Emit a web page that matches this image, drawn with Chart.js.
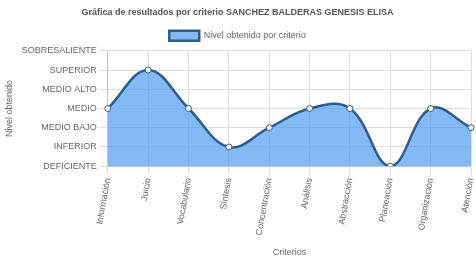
<!DOCTYPE html>
<html><head><meta charset="utf-8">
<script src="https://cdn.jsdelivr.net/npm/chart.js@4.4.1/dist/chart.umd.min.js"></script>
<style>html,body{margin:0;padding:0;background:#fff}#wrap{width:476px;height:260px}</style>
</head><body><div id="wrap"><canvas id="c"></canvas></div>
<script>
const categories = ["Información","Juicio","Vocabulario","Síntesis","Concentración","Análisis","Abstracción","Planeación","Organización","Atención"];
const levels = ["DEFICIENTE","INFERIOR","MEDIO BAJO","MEDIO","MEDIO ALTO","SUPERIOR","SOBRESALIENTE"];
const values = [3,5,3,1,2,3,3,0,3,2];
const seriesName = "Nivel obtenido por criterio";
const title = "Gráfica de resultados por criterio SANCHEZ BALDERAS GENESIS ELISA";

Chart.defaults.font.family = "'Liberation Sans', Arial, sans-serif";
Chart.defaults.font.size = 9;
Chart.defaults.color = "#666";
new Chart(document.getElementById('c'), {
  type: 'line',
  data: { labels: categories, datasets: [{
    label: seriesName, data: values, fill: true,
    backgroundColor: 'rgba(80,155,240,0.7)', borderColor: '#2e5b8c', borderWidth: 2.5,
    tension: 0.4, pointRadius: 3, pointBackgroundColor: '#fff', pointBorderColor: '#2e5b8c', pointBorderWidth: 1
  }]},
  options: {
    responsive: true, maintainAspectRatio: false, animation: false,
    layout: { padding: { left: 0, right: 1, top: 0, bottom: 0 } },
    plugins: {
      title: { display: true, text: title, font: { size: 9, weight: 'bold' }, color: '#555', padding: { top: 7, bottom: 8 } },
      legend: { labels: { boxWidth: 30, boxHeight: 10, font: { size: 9 }, padding: 5 } },
      tooltip: { enabled: false }
    },
    scales: {
      x: { offset: false, grid: { color: '#ddd' },
        afterFit: s => { s.paddingRight = 0; },
        ticks: { minRotation: 80, maxRotation: 80, font: { size: 9 }, padding: 3 },
        title: { display: true, text: 'Criterios', font: { size: 9 }, padding: { top: 8, bottom: 2 } } },
      y: { min: 0, max: 6, grid: { color: '#ddd' },
        ticks: { stepSize: 1, font: { size: 9 }, callback: v => levels[v] },
        title: { display: true, text: 'Nivel obtenido', font: { size: 9 } } }
    }
  }
});
</script></body></html>
